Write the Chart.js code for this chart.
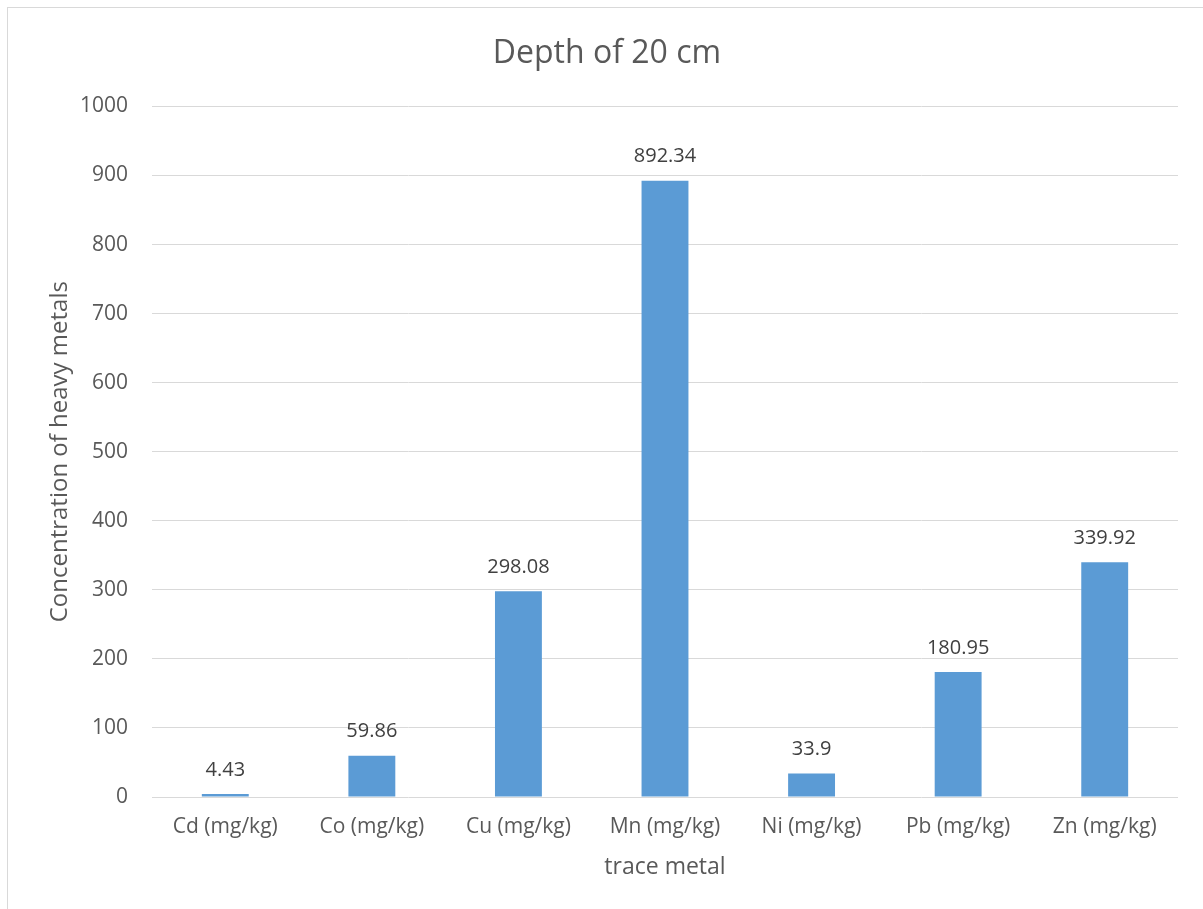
<!DOCTYPE html>
<html>
<head>
<meta charset="utf-8">
<script src="https://cdn.jsdelivr.net/npm/chart.js@4.4.1/dist/chart.umd.min.js"></script>
<style>
  html, body { margin: 0; padding: 0; background: #fff; overflow: hidden; }
  #frame {
    position: absolute; left: 7px; top: 7px; width: 1210px; height: 920px;
    border: 1px solid #d9d9d9; box-sizing: border-box;
  }
  #wrap { position: absolute; left: 0; top: 0; width: 1203px; height: 909px; }
</style>
</head>
<body>
<div id="frame"></div>
<div id="wrap"><canvas id="chart"></canvas></div>
<script>
// 数据
const metals = ['Cd (mg/kg)', 'Co (mg/kg)', 'Cu (mg/kg)', 'Mn (mg/kg)', 'Ni (mg/kg)', 'Pb (mg/kg)', 'Zn (mg/kg)'];
const concentrations = [4.43, 59.86, 298.08, 892.34, 33.9, 180.95, 339.92];
const yTicks = [0, 100, 200, 300, 400, 500, 600, 700, 800, 900, 1000];

const textColor = '#595959';

// 柱顶数值标签
const valueLabels = {
  id: 'valueLabels',
  afterDatasetsDraw(chart) {
    const ctx = chart.ctx;
    const meta = chart.getDatasetMeta(0);
    ctx.save();
    ctx.font = '20px "Open Sans"';
    ctx.fillStyle = '#404040';
    ctx.textAlign = 'center';
    ctx.textBaseline = 'middle';
    meta.data.forEach((bar, i) => {
      ctx.fillText(String(concentrations[i]), bar.x, bar.y - 24);
    });
    ctx.restore();
  }
};

new Chart(document.getElementById('chart').getContext('2d'), {
  type: 'bar',
  data: {
    labels: metals,
    datasets: [{
      data: concentrations,
      backgroundColor: '#5b9bd5',
      borderWidth: 0,
      barPercentage: 0.64,
      categoryPercentage: 0.5
    }]
  },
  options: {
    responsive: true,
    maintainAspectRatio: false,
    animation: false,
    layout: { padding: { top: 0, right: 25, bottom: 0, left: 36 } },
    plugins: {
      legend: { display: false },
      tooltip: { enabled: false },
      title: {
        display: true,
        text: 'Depth of 20 cm',
        color: textColor,
        font: { family: 'Open Sans', size: 32, weight: 'normal' },
        padding: { top: 35, bottom: 33 }
      }
    },
    scales: {
      x: {
        grid: { display: false, drawTicks: false },
        border: { display: false },
        ticks: {
          color: textColor,
          font: { family: 'Open Sans', size: 21 },
          padding: 17,
          maxRotation: 0
        },
        title: {
          display: true,
          text: 'trace metal',
          color: textColor,
          font: { family: 'Open Sans', size: 23 },
          padding: { top: 0, bottom: 28 }
        },
        afterFit(scale) { scale.height = 909 - 797; }
      },
      y: {
        min: 0,
        max: 1000,
        afterBuildTicks(scale) { scale.ticks = yTicks.map(v => ({ value: v })); },
        grid: { color: '#d9d9d9', lineWidth: 1, drawTicks: false },
        border: { display: false },
        ticks: {
          color: textColor,
          font: { family: 'Open Sans', size: 21 },
          padding: 24,
          callback: (v) => String(v)
        },
        title: {
          display: true,
          text: 'Concentration of heavy metals',
          color: textColor,
          font: { family: 'Open Sans', size: 24 },
          padding: { top: 10, bottom: 0 }
        },
        afterFit(scale) { scale.width = 152 - 36; }
      }
    }
  },
  plugins: [valueLabels]
});
</script>
</body>
</html>
